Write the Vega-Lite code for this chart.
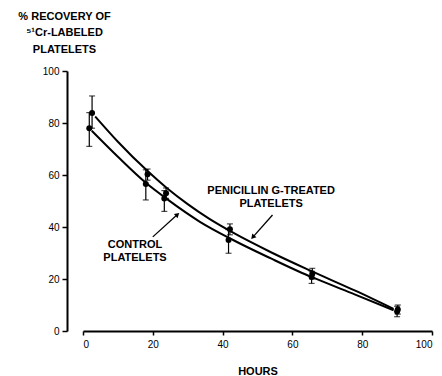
{
  "$schema": "https://vega.github.io/schema/vega-lite/v6.json",
  "width": 349,
  "height": 260,
  "autosize": "none",
  "padding": {"left": 83, "top": 71, "right": 10, "bottom": 45},
  "background": "white",
  "config": {"view": {"stroke": null}, "font": "Liberation Sans"},
  "datasets": {
    "curves": [
      {"series": "pen", "x": 3.5, "y": 82.5}, {"series": "pen", "x": 10, "y": 72.8}, {"series": "pen", "x": 18.5, "y": 61.5},
      {"series": "pen", "x": 24, "y": 55}, {"series": "pen", "x": 30, "y": 48.8}, {"series": "pen", "x": 36, "y": 43.3},
      {"series": "pen", "x": 43, "y": 37.8}, {"series": "pen", "x": 54, "y": 30.2}, {"series": "pen", "x": 65, "y": 23.3},
      {"series": "pen", "x": 78, "y": 15.5}, {"series": "pen", "x": 89, "y": 8.5},
      {"series": "ctrl", "x": 2.5, "y": 77}, {"series": "ctrl", "x": 10, "y": 67}, {"series": "ctrl", "x": 18, "y": 57},
      {"series": "ctrl", "x": 24, "y": 50.8}, {"series": "ctrl", "x": 33.5, "y": 42}, {"series": "ctrl", "x": 43, "y": 35},
      {"series": "ctrl", "x": 54, "y": 27.8}, {"series": "ctrl", "x": 62, "y": 22.8}, {"series": "ctrl", "x": 66, "y": 20.5},
      {"series": "ctrl", "x": 78, "y": 14}, {"series": "ctrl", "x": 89, "y": 8}
    ],
    "points": [
      {"series": "pen", "x": 2.6, "y": 83.8, "lo": 78, "hi": 90.4},
      {"series": "ctrl", "x": 1.8, "y": 78, "lo": 71, "hi": 84},
      {"series": "pen", "x": 18.5, "y": 60.3, "lo": 58, "hi": 62.3},
      {"series": "ctrl", "x": 18, "y": 56.5, "lo": 50.4, "hi": 62},
      {"series": "pen", "x": 23.8, "y": 53, "lo": 51, "hi": 55},
      {"series": "ctrl", "x": 23.3, "y": 51, "lo": 46, "hi": 54},
      {"series": "pen", "x": 42.1, "y": 39.1, "lo": 37, "hi": 41.2},
      {"series": "ctrl", "x": 41.7, "y": 35, "lo": 29.9, "hi": 39},
      {"series": "pen", "x": 65.7, "y": 22, "lo": 20, "hi": 24.1},
      {"series": "ctrl", "x": 65.5, "y": 20.8, "lo": 18.3, "hi": 23},
      {"series": "pen", "x": 90.2, "y": 8.3, "lo": 6.5, "hi": 10},
      {"series": "ctrl", "x": 90, "y": 7.5, "lo": 5.5, "hi": 9.5}
    ],
    "labels": [
      {"x": 53.9, "y": 54.0, "text": "PENICILLIN G-TREATED"},
      {"x": 53.9, "y": 48.8, "text": "PLATELETS"},
      {"x": 14.9, "y": 33.1, "text": "CONTROL"},
      {"x": 14.9, "y": 28, "text": "PLATELETS"}
    ],
    "arrows": [
      {"x": 54.3, "y": 44.6, "x2": 48.8, "y2": 36.3, "angle": 221.6},
      {"x": 20, "y": 36.2, "x2": 26.9, "y2": 44.6, "angle": 47.9}
    ]
  },
  "layer": [
    {
      "data": {"name": "curves"},
      "mark": {"type": "line", "color": "black", "strokeWidth": 2, "interpolate": "monotone"},
      "encoding": {
        "x": {"field": "x", "type": "quantitative", "scale": {"domain": [0, 100], "nice": false},
          "axis": {"title": "HOURS", "values": [0, 20, 40, 60, 80, 100], "grid": false, "domainColor": "black", "domainWidth": 2,
            "tickColor": "black", "tickSize": 4, "tickWidth": 1.5, "labelFont": "Liberation Sans", "labelFontSize": 10,
            "labelColor": "black", "labelPadding": 4, "titleFont": "Liberation Sans", "titleFontWeight": "bold", "titleFontSize": 11,
            "titleColor": "black", "titlePadding": 16}},
        "y": {"field": "y", "type": "quantitative", "scale": {"domain": [0, 100], "nice": false},
          "axis": {"title": ["% RECOVERY OF", "⁵¹Cr-LABELED", "PLATELETS"], "values": [0, 20, 40, 60, 80, 100], "grid": false,
            "offset": 16, "domainColor": "black", "domainWidth": 2, "tickColor": "black", "tickSize": 5, "tickWidth": 1.5,
            "labelFont": "Liberation Sans", "labelFontSize": 10, "labelColor": "black", "labelPadding": 3,
            "titleAngle": 0, "titleAlign": "center", "titleBaseline": "top", "titleX": -3, "titleY": -61,
            "titleLineHeight": 16.5, "titleFont": "Liberation Sans", "titleFontWeight": "bold", "titleFontSize": 11, "titleColor": "black"}},
        "detail": {"field": "series", "type": "nominal"}
      }
    },
    {
      "data": {"name": "points"},
      "mark": {"type": "rule", "color": "black", "strokeWidth": 1.2},
      "encoding": {
        "x": {"field": "x", "type": "quantitative"},
        "y": {"field": "lo", "type": "quantitative"},
        "y2": {"field": "hi"}
      }
    },
    {
      "data": {"name": "points"},
      "mark": {"type": "tick", "color": "black", "orient": "horizontal", "size": 6, "thickness": 1.2},
      "encoding": {
        "x": {"field": "x", "type": "quantitative"},
        "y": {"field": "lo", "type": "quantitative"}
      }
    },
    {
      "data": {"name": "points"},
      "mark": {"type": "tick", "color": "black", "orient": "horizontal", "size": 6, "thickness": 1.2},
      "encoding": {
        "x": {"field": "x", "type": "quantitative"},
        "y": {"field": "hi", "type": "quantitative"}
      }
    },
    {
      "data": {"name": "points"},
      "mark": {"type": "point", "filled": true, "color": "black", "size": 36, "opacity": 1},
      "encoding": {
        "x": {"field": "x", "type": "quantitative"},
        "y": {"field": "y", "type": "quantitative"}
      }
    },
    {
      "data": {"name": "labels"},
      "mark": {"type": "text", "font": "Liberation Sans", "fontWeight": "bold", "fontSize": 11, "color": "black", "align": "center", "baseline": "middle"},
      "encoding": {
        "x": {"field": "x", "type": "quantitative"},
        "y": {"field": "y", "type": "quantitative"},
        "text": {"field": "text"}
      }
    },
    {
      "data": {"name": "arrows"},
      "mark": {"type": "rule", "color": "black", "strokeWidth": 1.3},
      "encoding": {
        "x": {"field": "x", "type": "quantitative"},
        "y": {"field": "y", "type": "quantitative"},
        "x2": {"field": "x2"},
        "y2": {"field": "y2"}
      }
    },
    {
      "data": {"name": "arrows"},
      "mark": {"type": "point", "shape": "triangle", "filled": true, "color": "black", "size": 30, "opacity": 1},
      "encoding": {
        "x": {"field": "x2", "type": "quantitative"},
        "y": {"field": "y2", "type": "quantitative"},
        "angle": {"field": "angle", "type": "quantitative", "scale": null}
      }
    }
  ]
}
